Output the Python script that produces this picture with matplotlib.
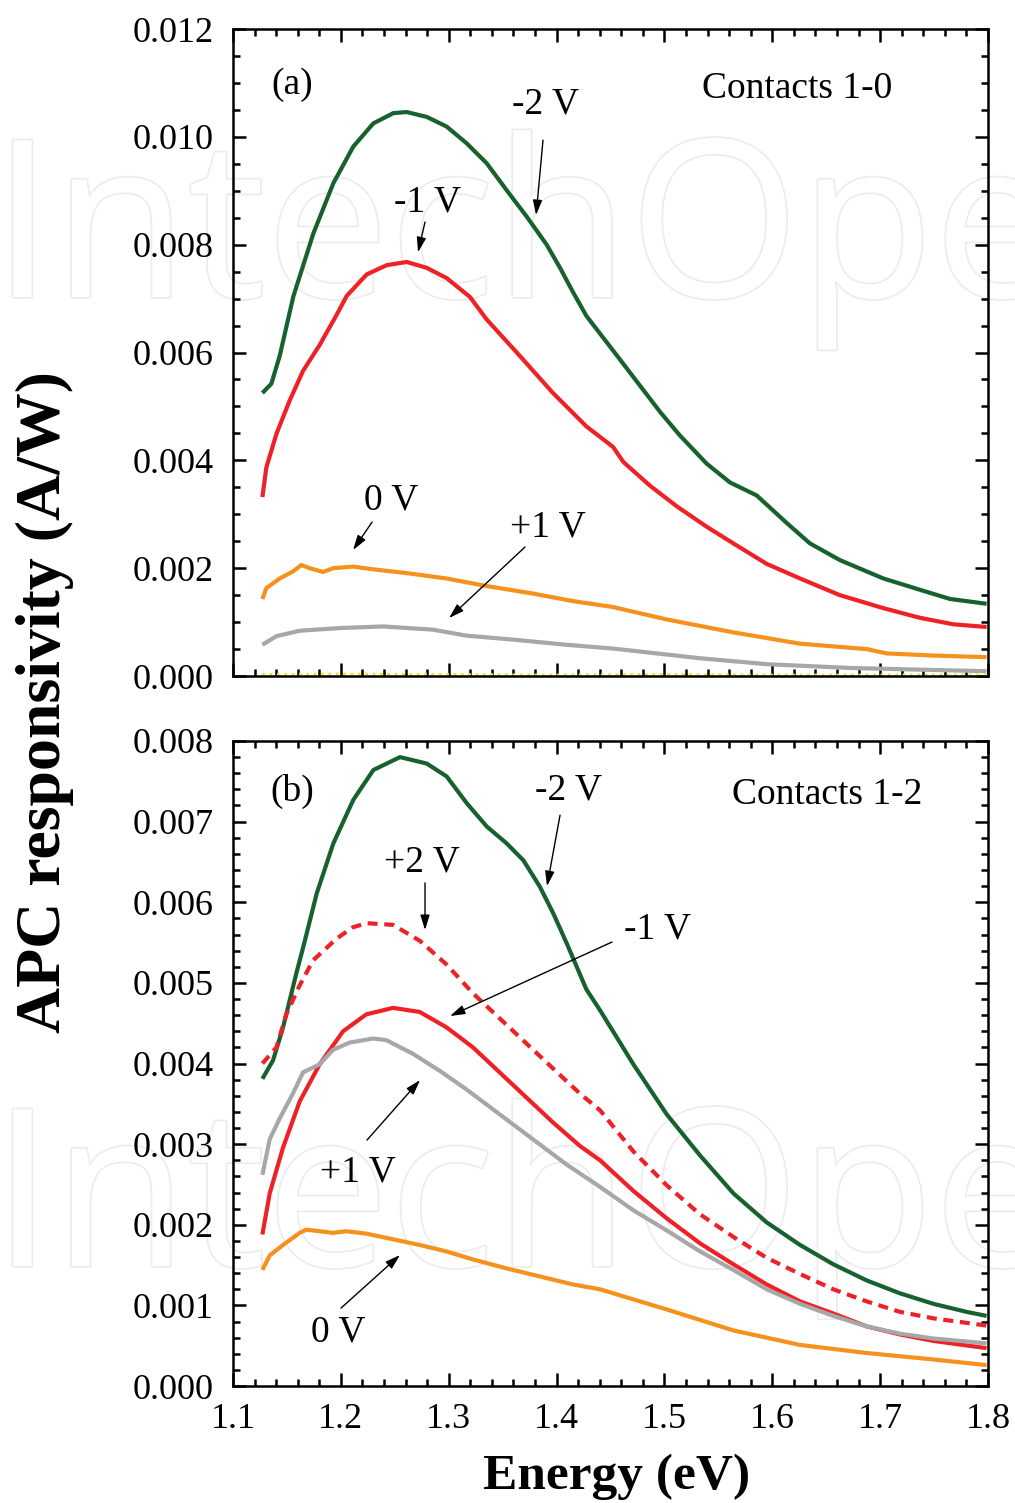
import matplotlib
matplotlib.use("Agg")
import matplotlib.pyplot as plt
import matplotlib.patheffects as pe
from matplotlib.ticker import MultipleLocator, FormatStrFormatter

plt.rcParams['font.family'] = ['Liberation Serif', 'DejaVu Serif']

# ---- panel (a): contacts 1-0 ----
a_m2_E = [1.1272, 1.1355, 1.1433, 1.1559, 1.1745, 1.193, 1.2115, 1.2301, 1.2486, 1.261,
          1.2796, 1.2981, 1.3166, 1.3352, 1.3537, 1.3723, 1.3908, 1.4032, 1.4152, 1.4276,
          1.4403, 1.4588, 1.4959, 1.5144, 1.5391, 1.5608, 1.5855, 1.6133, 1.6349, 1.6627,
          1.7029, 1.7369, 1.7647, 1.7987]
a_m2_V = [0.00525, 0.00542, 0.00594, 0.00704, 0.00821, 0.00914, 0.00982, 0.01025, 0.01044, 0.01046,
          0.01037, 0.01019, 0.00988, 0.00951, 0.00901, 0.00852, 0.00800, 0.00757, 0.00712, 0.00668,
          0.00635, 0.00587, 0.00490, 0.00446, 0.00394, 0.00359, 0.00335, 0.00284, 0.00246, 0.00215,
          0.00181, 0.00160, 0.00143, 0.00134]

a_m1_E = [1.1272, 1.1309, 1.1402, 1.1525, 1.1649, 1.1803, 1.1958, 1.2054, 1.224, 1.2425,
          1.261, 1.2796, 1.2981, 1.3197, 1.3349, 1.3658, 1.3966, 1.4276, 1.4523, 1.4619,
          1.4866, 1.5113, 1.5391, 1.5639, 1.5948, 1.6257, 1.6627, 1.7029, 1.7369, 1.7678, 1.7987]
a_m1_V = [0.00332, 0.00387, 0.00449, 0.00511, 0.00566, 0.00614, 0.00669, 0.00705, 0.00745, 0.00762,
          0.00768, 0.00757, 0.00738, 0.00703, 0.00662, 0.00594, 0.00525, 0.00463, 0.00425, 0.00397,
          0.00353, 0.00315, 0.00277, 0.00246, 0.00208, 0.00181, 0.00150, 0.00126, 0.00108, 0.00096, 0.00091]

a_0_E = [1.1272, 1.1309, 1.1433, 1.1556, 1.1633, 1.1711, 1.1834, 1.1927, 1.2112, 1.2298,
         1.2607, 1.2978, 1.3349, 1.3781, 1.4152, 1.4523, 1.5021, 1.5639, 1.6257, 1.6875,
         1.7060, 1.7493, 1.7987]
a_0_V = [0.00143, 0.00163, 0.00181, 0.00194, 0.00206, 0.00200, 0.00193, 0.00200, 0.00203, 0.00198,
         0.00191, 0.00181, 0.00167, 0.00153, 0.00139, 0.00128, 0.00105, 0.00081, 0.00060, 0.00050,
         0.00042, 0.00038, 0.00035]

a_p1_E = [1.1272, 1.1402, 1.1618, 1.1989, 1.2391, 1.2854, 1.3163, 1.3627, 1.409, 1.4523,
          1.5330, 1.5948, 1.672, 1.7338, 1.7987]
a_p1_V = [0.00058, 0.00074, 0.00084, 0.00089, 0.00092, 0.00086, 0.00075, 0.00067, 0.00058, 0.00051,
          0.00033, 0.00022, 0.00015, 0.00012, 0.00009]

a_p2_E = [1.127, 1.2, 1.3, 1.4, 1.5, 1.6, 1.7, 1.8]
a_p2_V = [0.00003, 0.00004, 0.00003, 0.00002, 0.00003, 0.00002, 0.00002, 0.00002]

# ---- panel (b): contacts 1-2 ----
b_m2_E = [1.1272, 1.1371, 1.1464, 1.1587, 1.1652, 1.1776, 1.193, 1.2115, 1.2301, 1.2548,
          1.2796, 1.2981, 1.3166, 1.3352, 1.3537, 1.3692, 1.3846, 1.397, 1.4094, 1.4276,
          1.4403, 1.4712, 1.5021, 1.533, 1.5639, 1.5948, 1.6257, 1.6566, 1.6875, 1.7184,
          1.7493, 1.7802, 1.7987]
b_m2_V = [0.00381, 0.00404, 0.00445, 0.00512, 0.00545, 0.00611, 0.00673, 0.00727, 0.00764, 0.00780,
          0.00772, 0.00756, 0.00723, 0.00694, 0.00673, 0.00652, 0.00619, 0.00586, 0.00549, 0.00492,
          0.00466, 0.00399, 0.00337, 0.00286, 0.00239, 0.00203, 0.00175, 0.00151, 0.00131, 0.00115,
          0.00102, 0.00092, 0.00087]

b_p2_E = [1.1272, 1.1402, 1.1494, 1.1618, 1.1742, 1.1961, 1.2112, 1.224, 1.2483, 1.2734,
          1.2978, 1.3225, 1.3472, 1.3719, 1.3966, 1.4214, 1.4403, 1.4712, 1.5021, 1.533,
          1.5639, 1.5948, 1.6257, 1.6566, 1.6875, 1.7184, 1.7493, 1.7987]
b_p2_V = [0.00400, 0.00420, 0.00461, 0.00497, 0.00528, 0.00555, 0.00569, 0.00574, 0.00572, 0.00552,
          0.00523, 0.00487, 0.00456, 0.00425, 0.00394, 0.00363, 0.00342, 0.00291, 0.00249, 0.00213,
          0.00185, 0.00159, 0.00139, 0.00120, 0.00105, 0.00092, 0.00084, 0.00075]

b_m1_E = [1.1272, 1.134, 1.1464, 1.1618, 1.1803, 1.202, 1.2236, 1.2483, 1.273, 1.2978,
          1.3225, 1.3472, 1.3719, 1.3966, 1.4214, 1.4403, 1.4712, 1.5021, 1.533, 1.5639,
          1.5948, 1.6257, 1.6566, 1.6875, 1.7184, 1.7493, 1.7987]
b_m1_V = [0.00188, 0.00239, 0.00296, 0.00353, 0.00399, 0.00440, 0.00461, 0.00469, 0.00464, 0.00445,
          0.00420, 0.00389, 0.00358, 0.00327, 0.00298, 0.00280, 0.00242, 0.00208, 0.00177, 0.00151,
          0.00126, 0.00105, 0.00090, 0.00074, 0.00064, 0.00056, 0.00047]

b_p1_E = [1.1272, 1.134, 1.1433, 1.1556, 1.1649, 1.1803, 1.1927, 1.2082, 1.2298, 1.2421,
          1.2669, 1.2916, 1.3163, 1.3472, 1.3781, 1.409, 1.4403, 1.4712, 1.5021, 1.533,
          1.5639, 1.5948, 1.6257, 1.6566, 1.6875, 1.7184, 1.7493, 1.7987]
b_p1_V = [0.00262, 0.00306, 0.00332, 0.00363, 0.00389, 0.00399, 0.00417, 0.00426, 0.00431, 0.00429,
          0.00412, 0.00391, 0.00368, 0.00337, 0.00306, 0.00275, 0.00247, 0.00218, 0.00193, 0.00167,
          0.00144, 0.00120, 0.00102, 0.00087, 0.00074, 0.00065, 0.00059, 0.00053]

b_0_E = [1.1272, 1.134, 1.1464, 1.1618, 1.168, 1.1927, 1.2051, 1.2236, 1.2483, 1.273,
         1.2978, 1.3225, 1.3534, 1.3843, 1.4152, 1.4403, 1.5021, 1.5639, 1.6257, 1.6875,
         1.7493, 1.7987]
b_0_V = [0.00144, 0.00162, 0.00175, 0.00190, 0.00194, 0.00190, 0.00192, 0.00189, 0.00182, 0.00175,
         0.00167, 0.00157, 0.00146, 0.00136, 0.00126, 0.00120, 0.00095, 0.00069, 0.00051, 0.00041,
         0.00033, 0.00026]

GREEN = '#17612f'
RED = '#ee2226'
ORANGE = '#f6911e'
GRAY = '#a7a7a7'
YELLOW = '#f3e51c'

fig = plt.figure(figsize=(10.15, 15.03), dpi=100)

# watermark
for yb in (0.8024, 0.1577):
    fig.text(-0.008, yb, 'IntechOpen', fontsize=158, family='Open Sans',
             color='white', ha='left', va='baseline', zorder=-5,
             path_effects=[pe.withStroke(linewidth=2.5, foreground='#ececec')])

ax1 = fig.add_axes([0.2296, 0.5502, 0.7438, 0.4305])
ax2 = fig.add_axes([0.2296, 0.0778, 0.7438, 0.4292])

lw = 3.0
kw = dict(lw=lw, solid_joinstyle='round', solid_capstyle='butt')
ax1.plot(a_m2_E, a_m2_V, color=GREEN, **kw)
ax1.plot(a_m1_E, a_m1_V, color=RED, **kw)
ax1.plot(a_0_E, a_0_V, color=ORANGE, **kw)
ax1.plot(a_p1_E, a_p1_V, color=GRAY, **kw)
ax1.plot(a_p2_E, a_p2_V, color=YELLOW, lw=2, ls=':')

ax2.plot(b_m2_E, b_m2_V, color=GREEN, **kw)
ax2.plot(b_p2_E, b_p2_V, color=RED, lw=lw, ls=(0, (2.4, 1.6)))
ax2.plot(b_m1_E, b_m1_V, color=RED, **kw)
ax2.plot(b_p1_E, b_p1_V, color=GRAY, **kw)
ax2.plot(b_0_E, b_0_V, color=ORANGE, **kw)

for ax in (ax1, ax2):
    ax.set_facecolor('none')
    ax.set_xlim(1.1, 1.8)
    ax.xaxis.set_major_locator(MultipleLocator(0.1))
    ax.xaxis.set_minor_locator(MultipleLocator(0.02))
    ax.xaxis.set_major_formatter(FormatStrFormatter('%.1f'))
    ax.yaxis.set_major_formatter(FormatStrFormatter('%.3f'))
    ax.tick_params(which='both', direction='in', top=True, right=True,
                   labelsize=26, width=1.8)
    ax.tick_params(which='major', length=9.5)
    ax.tick_params(which='minor', length=5)
    ax.tick_params(axis='y', pad=14)
    ax.tick_params(axis='x', pad=12)
    for s in ax.spines.values():
        s.set_linewidth(1.8)

ax1.set_ylim(0, 0.012)
ax1.yaxis.set_major_locator(MultipleLocator(0.002))
ax1.yaxis.set_minor_locator(MultipleLocator(0.0005))
ax1.tick_params(axis='x', labelbottom=False)

ax2.set_ylim(0, 0.008)
ax2.yaxis.set_major_locator(MultipleLocator(0.001))
ax2.yaxis.set_minor_locator(MultipleLocator(0.0002))

fs = 27
arrow = dict(arrowstyle='-|>,head_length=0.9,head_width=0.28', color='k', lw=1,
             shrinkA=0, shrinkB=0)

ax1.text(1.1547, 0.01096, '(a)', fontsize=fs, ha='center', va='center')
ax1.text(1.6229, 0.01089, 'Contacts 1-0', fontsize=fs, ha='center', va='center')
ax1.text(1.3893, 0.01061, '-2 V', fontsize=fs, ha='center', va='center')
ax1.annotate('', xy=(1.381, 0.00855), xytext=(1.3874, 0.00994), arrowprops=arrow)
ax1.text(1.2799, 0.00879, '-1 V', fontsize=fs, ha='center', va='center')
ax1.annotate('', xy=(1.2715, 0.00786), xytext=(1.278, 0.00842), arrowprops=arrow)
ax1.text(1.2465, 0.003264, '0 V', fontsize=fs, ha='center', va='center')
ax1.annotate('', xy=(1.2113, 0.002337), xytext=(1.2289, 0.002856), arrowprops=arrow)
ax1.text(1.392, 0.002764, '+1 V', fontsize=fs, ha='center', va='center')
ax1.annotate('', xy=(1.3003, 0.001076), xytext=(1.3707, 0.002393), arrowprops=arrow)

ax2.text(1.1547, 0.00738, '(b)', fontsize=fs, ha='center', va='center')
ax2.text(1.6507, 0.00733, 'Contacts 1-2', fontsize=fs, ha='center', va='center')
ax2.text(1.4106, 0.00739, '-2 V', fontsize=fs, ha='center', va='center')
ax2.annotate('', xy=(1.3911, 0.0062), xytext=(1.4032, 0.00708), arrowprops=arrow)
ax2.text(1.2752, 0.0065, '+2 V', fontsize=fs, ha='center', va='center')
ax2.annotate('', xy=(1.278, 0.005656), xytext=(1.278, 0.00624), arrowprops=arrow)
ax2.text(1.4931, 0.005668, '-1 V', fontsize=fs, ha='center', va='center')
ax2.annotate('', xy=(1.3012, 0.004589), xytext=(1.4514, 0.005507), arrowprops=arrow)
ax2.text(1.2159, 0.002654, '+1 V', fontsize=fs, ha='center', va='center')
ax2.annotate('', xy=(1.2734, 0.003795), xytext=(1.2242, 0.003051), arrowprops=arrow)
ax2.text(1.1973, 0.00067, '0 V', fontsize=fs, ha='center', va='center')
ax2.annotate('', xy=(1.2548, 0.001625), xytext=(1.2001, 0.000967), arrowprops=arrow)

fig.text(0.0443, 0.533, 'APC responsivity (A/W)', fontsize=46, fontweight='bold',
         rotation=90, ha='center', va='center')
fig.text(0.607, 0.0173, 'Energy (eV)', fontsize=37, fontweight='bold',
         ha='center', va='center')

fig.savefig('out.png', dpi=100)
